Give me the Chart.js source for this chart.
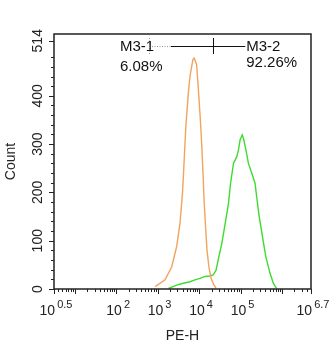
<!DOCTYPE html>
<html>
<head>
<meta charset="utf-8">
<script src="https://cdn.jsdelivr.net/npm/chart.js@4"></script>
<style>
  html, body { margin: 0; padding: 0; background: #fff; }
  #wrap { width: 334px; height: 350px; }
</style>
</head>
<body>
<div id="wrap"><canvas id="histo" width="334" height="350"></canvas></div>
<script>
'use strict';

// PE-H intensity (x) and count (y) for the two histograms
var controlX = [870, 1510, 2190, 2880, 3470, 3980, 4370, 4790, 5500, 6030, 7080, 7590, 8710, 9330,
  10000, 11000, 11750, 12500, 13200, 14300, 15500, 17300, 19500, 22500, 25700];
var controlY = [5, 19, 46, 88, 137, 199, 267, 336, 405, 440, 475, 478, 465, 430,
  392, 335, 288, 235, 184, 130, 81, 45, 22, 9, 2];

var sampleX = [1820, 2880, 4170, 6030, 7940, 10500, 13800, 18200, 21900, 25700, 28800, 35500, 42700,
  51300, 57500, 67600, 81300, 89100, 97700, 110000, 120000, 135000, 155000, 186000, 224000, 245000,
  282000, 339000, 407000, 513000, 617000, 741000];
var sampleY = [1, 8, 12, 15, 19, 22, 26, 27, 29, 39, 60, 95, 136,
  178, 219, 260, 274, 288, 309, 319, 309, 288, 260, 240, 219, 191,
  150, 108, 67, 33, 12, 1];

// axis ticks
var xMin = 3.1623, xMax = 5011872;
var xTickExp = ['0.5', '2', '3', '4', '5', '6.7'];
var xTickVals = [3.1623, 100, 1000, 10000, 100000, 5011872];
var yTicks = [0, 100, 200, 300, 400, 514];
var yMax = 528;

// gates: [start, split, end]
var gateNames = ['M3-1', 'M3-2'];
var gatePcts = ['6.08%', '92.26%'];
var gateEdges = [620, 2100, 21400, 130000];

function toPoints(xs, ys) {
  return xs.map(function(x, i) { return { x: x, y: ys[i] }; });
}

var axesPlugin = {
  id: 'flowAxes',
  afterDraw: function(chart) {
    var ctx = chart.ctx,
      area = chart.chartArea,
      sx = chart.scales.x,
      sy = chart.scales.y,
      font = '"Liberation Sans", Arial, sans-serif';

    ctx.save();
    ctx.strokeStyle = '#222';
    ctx.fillStyle = '#222';
    ctx.lineWidth = 1.5;
    ctx.strokeRect(area.left, area.top, area.right - area.left, area.bottom - area.top);

    // y ticks
    ctx.lineWidth = 1;
    ctx.beginPath();
    for (var v = 20; v < 514; v += 20) {
      if (v % 100 === 0) continue;
      var py = Math.round(sy.getPixelForValue(v)) + 0.5;
      ctx.moveTo(area.left - 3, py);
      ctx.lineTo(area.left, py);
    }
    yTicks.forEach(function(t) {
      var py = Math.round(sy.getPixelForValue(t)) + 0.5;
      ctx.moveTo(area.left - 5, py);
      ctx.lineTo(area.left, py);
    });
    ctx.stroke();

    ctx.font = '14px ' + font;
    ctx.textAlign = 'center';
    ctx.textBaseline = 'middle';
    yTicks.forEach(function(t) {
      ctx.save();
      ctx.translate(38, sy.getPixelForValue(t));
      ctx.rotate(-Math.PI / 2);
      ctx.fillText(String(t), 0, 0);
      ctx.restore();
    });

    // x ticks
    ctx.beginPath();
    for (var e = 0; e <= 6; e++) {
      for (var m = 1; m < 10; m++) {
        var val = m * Math.pow(10, e);
        if (val <= xMin || val >= xMax) continue;
        var px = Math.round(sx.getPixelForValue(val)) + 0.5;
        ctx.moveTo(px, area.bottom);
        ctx.lineTo(px, area.bottom + (m === 1 ? 5 : 3));
      }
    }
    [xMin, xMax].forEach(function(val) {
      var px = Math.round(sx.getPixelForValue(val)) + 0.5;
      ctx.moveTo(px, area.bottom);
      ctx.lineTo(px, area.bottom + 5);
    });
    ctx.stroke();

    ctx.textBaseline = 'alphabetic';
    xTickVals.forEach(function(val, i) {
      var px = sx.getPixelForValue(val);
      ctx.font = '14px ' + font;
      var wBase = ctx.measureText('10').width;
      ctx.font = '11px ' + font;
      var wExp = ctx.measureText(xTickExp[i]).width;
      var left = px - (wBase + 2 + wExp) / 2 + 2;
      ctx.textAlign = 'left';
      ctx.font = '14px ' + font;
      ctx.fillText('10', left, 315);
      ctx.font = '11px ' + font;
      ctx.fillText(xTickExp[i], left + wBase + 2, 308);
    });

    // axis titles
    ctx.font = '14px ' + font;
    ctx.textAlign = 'center';
    ctx.textBaseline = 'middle';
    ctx.fillText('PE-H', (area.left + area.right) / 2, 336);
    ctx.save();
    ctx.translate(11, (area.top + area.bottom) / 2);
    ctx.rotate(-Math.PI / 2);
    ctx.fillText('Count', 0, 0);
    ctx.restore();

    // gates
    var gy = 46.5,
      g0 = sx.getPixelForValue(gateEdges[0]),
      g1 = sx.getPixelForValue(gateEdges[1]),
      g2 = sx.getPixelForValue(gateEdges[2]),
      g3 = sx.getPixelForValue(gateEdges[3]);
    ctx.lineWidth = 1;
    ctx.strokeStyle = '#999';
    ctx.setLineDash([1, 1.5]);
    ctx.beginPath();
    ctx.moveTo(g0 + 3, gy);
    ctx.lineTo(g1, gy);
    ctx.moveTo(Math.round(g0) + 0.5, 38);
    ctx.lineTo(Math.round(g0) + 0.5, 54);
    ctx.stroke();
    ctx.setLineDash([]);
    ctx.strokeStyle = '#111';
    ctx.beginPath();
    ctx.moveTo(g1, gy);
    ctx.lineTo(g3, gy);
    ctx.moveTo(Math.round(g2) + 0.5, 38);
    ctx.lineTo(Math.round(g2) + 0.5, 54);
    ctx.stroke();

    ctx.font = '15px ' + font;
    ctx.textAlign = 'left';
    ctx.fillStyle = '#111';
    ctx.fillText(gateNames[0], 120, 47);
    ctx.fillText(gatePcts[0], 120, 67);
    ctx.fillText(gateNames[1], g3 + 1, 47);
    ctx.fillText(gatePcts[1], g3 + 1, 63);
    ctx.restore();
  }
};

new Chart(document.getElementById('histo'), {
  type: 'line',
  data: {
    datasets: [{
      label: 'Control',
      data: toPoints(controlX, controlY),
      borderColor: '#f2a35e',
      borderWidth: 1.4,
      pointRadius: 0,
      tension: 0
    }, {
      label: 'Sample',
      data: toPoints(sampleX, sampleY),
      borderColor: '#3ddc2f',
      borderWidth: 1.4,
      pointRadius: 0,
      tension: 0
    }]
  },
  options: {
    responsive: false,
    animation: false,
    layout: { padding: { left: 54, right: 23, top: 34, bottom: 61 } },
    plugins: { legend: { display: false }, tooltip: { enabled: false } },
    scales: {
      x: { type: 'logarithmic', min: xMin, max: xMax, display: false },
      y: { type: 'linear', min: 0, max: yMax, display: false }
    }
  },
  plugins: [axesPlugin]
});
</script>
</body>
</html>
